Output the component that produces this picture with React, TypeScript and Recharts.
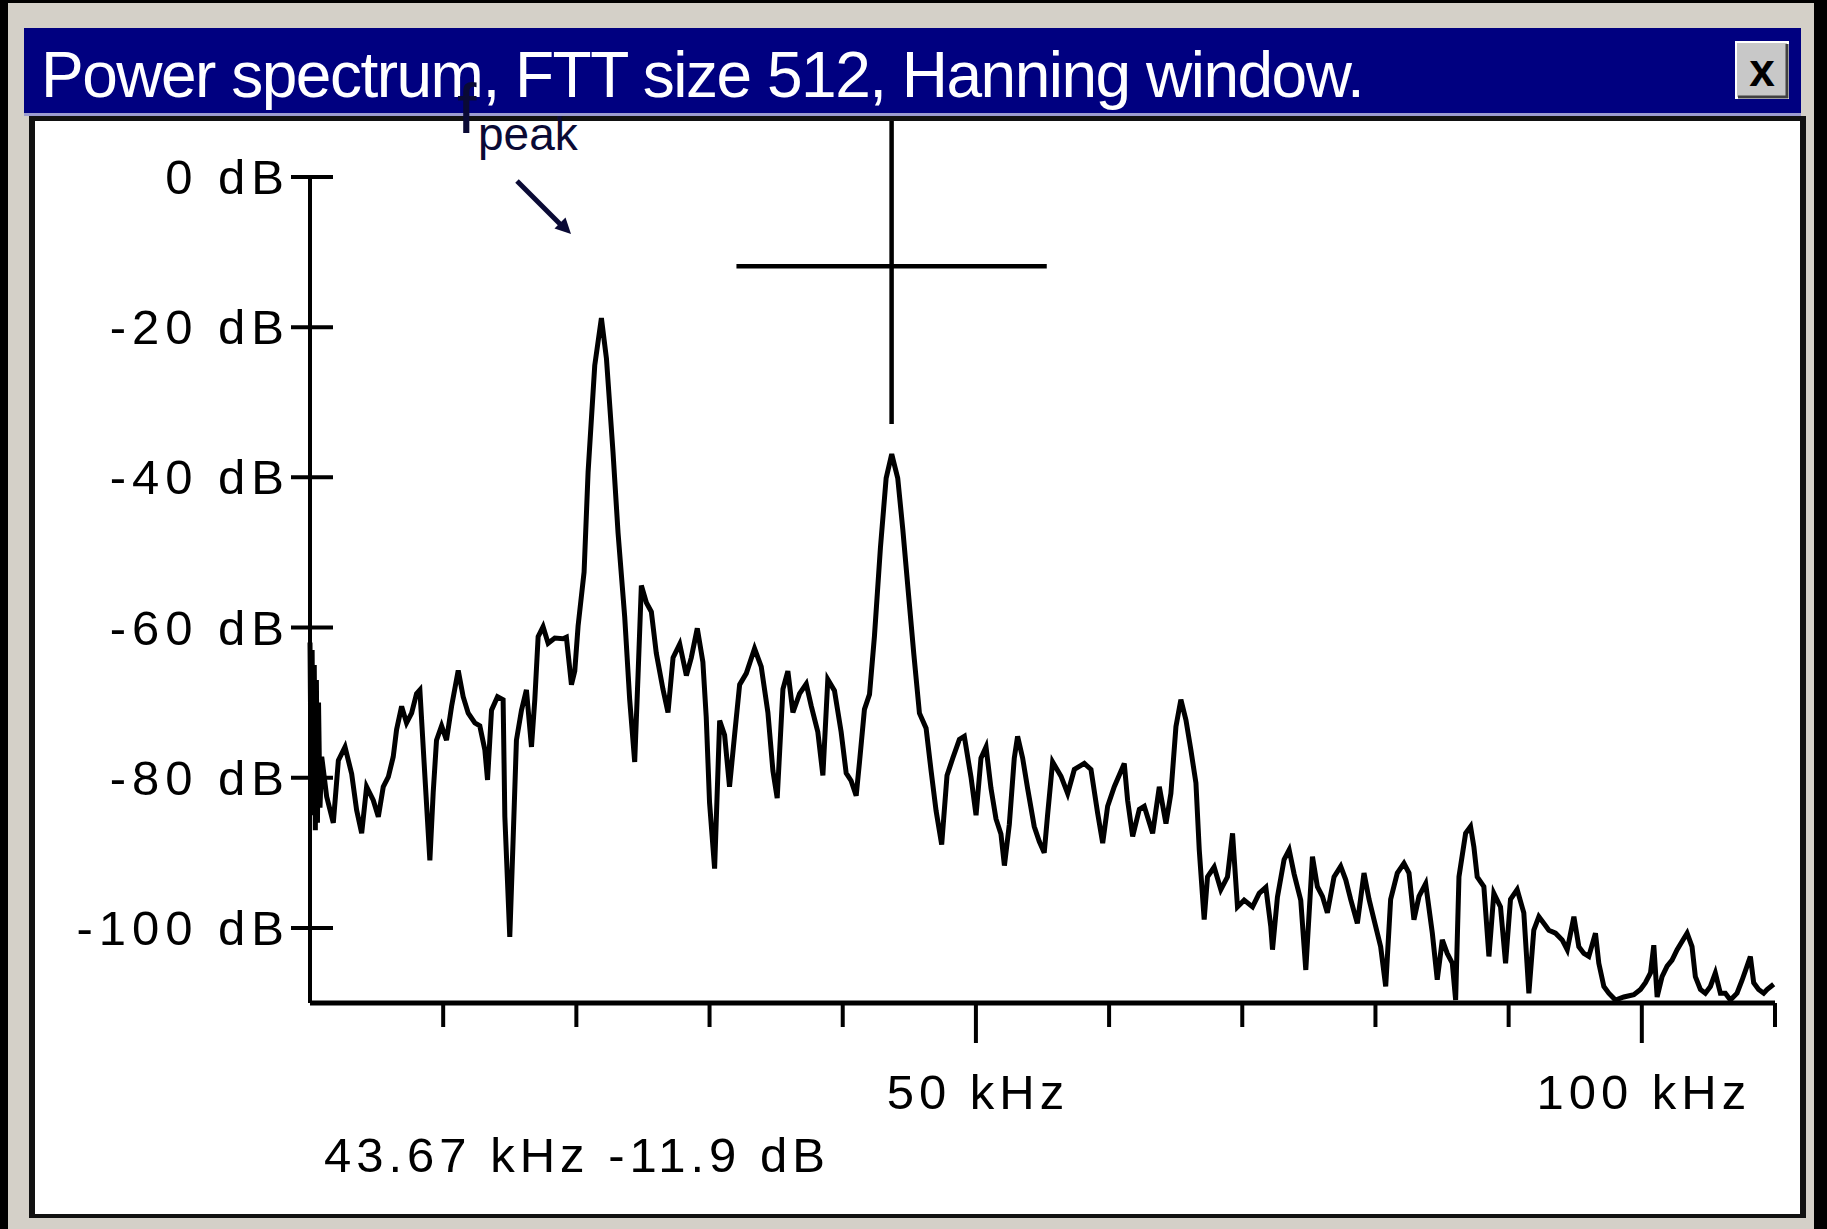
import React from 'react'
import { LineChart, Line, XAxis, YAxis, ReferenceLine } from 'recharts'

// spectrum samples (kHz, dB)
const FREQ_KHZ = [
  0, 0.08, 0.16, 0.24, 0.32, 0.4, 0.48, 0.56, 0.64, 0.75, 0.88, 1.25, 1.75, 2.13, 2.63, 3.13, 3.5, 3.88, 4.25, 4.75, 5.13, 5.5, 5.88, 6.25,
  6.5, 6.88, 7.25, 7.63, 8.0, 8.25, 8.63, 9.0, 9.25, 9.5, 9.88, 10.25, 10.63, 11.13, 11.5, 11.88, 12.38, 12.75, 13.13, 13.33,
  13.63, 14.08, 14.5, 14.63, 15.0, 15.25, 15.5, 15.88, 16.25, 16.63, 16.88, 17.13, 17.5, 17.88, 18.38, 19.0, 19.25, 19.63, 19.88, 20.13,
  20.58, 20.88, 21.38, 21.88, 22.26, 22.75, 23.13, 23.63, 24.0, 24.38, 24.63, 24.88, 25.26, 25.63, 26.0, 26.5, 26.88, 27.26, 27.76, 28.26,
  28.63, 29.08, 29.5, 29.75, 30.0, 30.38, 30.76, 31.13, 31.5, 31.88, 32.26, 32.76, 33.38, 33.88, 34.38, 34.76, 35.08, 35.51, 35.88, 36.26,
  36.76, 37.26, 37.63, 38.13, 38.51, 38.88, 39.38, 39.88, 40.26, 40.63, 41.01, 41.26, 41.63, 42.01, 42.38, 42.83, 43.26, 43.68, 44.13, 44.51,
  44.93, 45.33, 45.76, 46.26, 46.63, 47.01, 47.43, 47.83, 48.26, 48.76, 49.13, 49.63, 50.01, 50.38, 50.76, 51.13, 51.51, 51.88, 52.14, 52.51,
  52.88, 53.13, 53.51, 53.88, 54.38, 54.76, 55.13, 55.38, 55.76, 56.39, 56.89, 57.39, 58.14, 58.64, 59.14, 59.52, 59.89, 60.39, 61.14, 61.39,
  61.77, 62.27, 62.64, 63.27, 63.77, 64.27, 64.64, 65.02, 65.39, 65.77, 66.14, 66.52, 66.77, 67.14, 67.39, 67.89, 68.39, 68.89, 69.27, 69.64,
  70.14, 70.77, 71.27, 71.77, 72.14, 72.27, 72.64, 73.14, 73.52, 73.89, 74.39, 74.77, 75.27, 75.64, 76.02, 76.39, 76.89, 77.39, 77.77, 78.14,
  78.64, 79.14, 79.52, 79.89, 80.39, 80.77, 81.14, 81.64, 82.14, 82.52, 82.89, 83.27, 83.77, 84.27, 84.64, 85.02, 85.39, 85.77, 86.02, 86.27,
  86.77, 87.14, 87.39, 87.64, 88.14, 88.52, 88.89, 89.39, 89.77, 90.14, 90.64, 91.14, 91.52, 91.89, 92.27, 92.65, 93.02, 93.52, 94.02, 94.4,
  94.9, 95.27, 95.65, 96.02, 96.52, 96.77, 97.15, 97.52, 98.02, 98.65, 99.4, 99.9, 100.27, 100.65, 100.9, 101.15, 101.52, 101.9, 102.27, 102.65,
  103.02, 103.4, 103.77, 104.02, 104.4, 104.77, 105.15, 105.52, 105.9, 106.27, 106.65, 107.15, 107.52, 107.9, 108.15, 108.4, 108.77, 109.15, 109.4, 109.9,
]

const POWER_DB = [
  -62, -80, -63, -85, -65, -87, -67, -86, -70, -84, -77.2, -82.5, -86, -77.7, -75.9, -79.5, -84.3, -87.4, -81.2, -83, -85.2, -81.2, -79.9, -77.2,
  -73.6, -70.5, -72.7, -71.4, -68.8, -68.3, -79.9, -91, -82, -75, -73.1, -75, -70.5, -65.7, -69.2, -71.4, -72.7, -73.1, -76.3, -80.3,
  -71, -69.2, -69.6, -85.2, -101.2, -88.3, -75, -71, -68.3, -75.9, -69.6, -61.2, -59.9, -62.1, -61.4, -61.5, -61.3, -67.6, -65.8, -59.8,
  -52.6, -39.3, -25.1, -18.8, -24.2, -36.6, -47.4, -58.6, -69.5, -77.9, -66.4, -54.4, -56.7, -57.9, -63.4, -68.2, -71.3, -64, -62.2, -66.4,
  -64, -60.1, -64.6, -71.9, -83.3, -92.1, -72.4, -74.3, -81.2, -74.3, -67.6, -66.1, -62.8, -65.2, -71.3, -79.1, -82.7, -68.2, -65.8, -71.3,
  -68.8, -67.5, -70.4, -73.9, -79.7, -66.9, -68.4, -73.9, -79.4, -80.4, -82.4, -77.9, -70.9, -68.9, -61.2, -49.4, -40.1, -36.9, -40.1, -46.9,
  -55.4, -63.4, -71.4, -73.4, -79, -84.4, -88.9, -79.7, -77.4, -74.9, -74.5, -79.9, -85, -77.4, -75.9, -81.4, -85.5, -87.5, -91.7, -86.2,
  -77.4, -74.5, -77.4, -81.4, -86.5, -88.5, -90, -85, -77.9, -79.8, -82.1, -78.9, -78.1, -78.9, -84.7, -88.7, -83.8, -81.2, -78.1, -83,
  -87.8, -84.2, -83.8, -87.4, -81.2, -86.1, -82.1, -73.2, -69.6, -72.3, -76.3, -80.7, -89.6, -98.9, -93.2, -91.9, -94.9, -93.2, -87.4, -97.2,
  -96.3, -97.2, -95.4, -94.6, -99.8, -102.9, -95.9, -90.9, -89.6, -92.8, -96.3, -105.6, -90.5, -94.5, -95.8, -98, -93.2, -91.8, -93.6, -96.2,
  -99.4, -92.7, -96.2, -98.9, -102.5, -107.8, -96.2, -92.7, -91.4, -92.7, -98.9, -95.8, -94.1, -100.7, -106.9, -101.6, -103.4, -104.7, -109.6, -93.2,
  -87.4, -86.5, -89.2, -93.2, -94.5, -103.8, -95.4, -97.2, -104.7, -96.2, -94.9, -98, -108.7, -100.3, -98.5, -99.4, -100.3, -100.7, -101.6, -102.9,
  -98.5, -102.5, -103.4, -103.8, -100.7, -104.7, -107.8, -108.7, -109.6, -109.2, -108.9, -108.2, -107.3, -106, -102.3, -109.2, -106.5, -105.1, -104.3, -102.9,
  -101.8, -100.7, -102.5, -106.5, -108.2, -108.7, -107.8, -106, -108.7, -108.7, -109.6, -108.7, -107, -105.1, -103.8, -107.3, -108.2, -108.7, -108.2, -107.5,
]

const X_TICKS = [10, 20, 30, 40, 50, 60, 70, 80, 90, 100, 110]
const X_LABELED = [50, 100]
const Y_TICKS = [0, -20, -40, -60, -80, -100]

const CURSOR_KHZ = 43.67
const CURSOR_DB = -11.9
const CROSS_HALF_KHZ = 11.65
const CROSS_HALF_DB = 21

const TITLE = 'Power spectrum, FTT size 512, Hanning window.'
const READOUT = `${CURSOR_KHZ} kHz -${Math.abs(CURSOR_DB)} dB`

const data = FREQ_KHZ.map((f, i) => ({ f, db: POWER_DB[i] }))

const FONT = '"Liberation Sans", Arial, sans-serif'

function YTick(props: any) {
  const { x, y, payload } = props
  return (
    <g>
      <line x1={x - 19} x2={x + 23} y1={y} y2={y} stroke="#000" strokeWidth={4} />
      <text
        x={x - 20}
        y={y + 17}
        textAnchor="end"
        fontFamily={FONT}
        fontSize={49}
        letterSpacing={6}
        fill="#000"
      >
        {`${payload.value} dB`}
      </text>
    </g>
  )
}

function XTick(props: any) {
  const { x, y, payload } = props
  const major = X_LABELED.includes(payload.value)
  return (
    <g>
      <line x1={x} x2={x} y1={y} y2={y + (major ? 40 : 24)} stroke="#000" strokeWidth={4} />
      {major && (
        <text x={x + 2} y={y + 106} textAnchor="middle" fontFamily={FONT} fontSize={49} letterSpacing={5} fill="#000">
          {`${payload.value} kHz`}
        </text>
      )}
    </g>
  )
}

export default function App() {
  return (
    <div style={{ position: 'fixed', left: 0, top: 0, width: 1827, height: 1229, background: '#000', overflow: 'hidden' }}>
      {/* window frame */}
      <div style={{ position: 'absolute', left: 8, top: 3, width: 1806, height: 1226, background: '#d4d0c8' }} />
      <div style={{ position: 'absolute', left: 29, top: 117, width: 1777, height: 1101, background: '#111' }} />
      <div style={{ position: 'absolute', left: 35, top: 121, width: 1765, height: 1093, background: '#fff' }} />

      <div style={{ position: 'absolute', left: 0, top: 0 }}>
        <LineChart width={1827} height={1229} data={data} margin={{ top: 177, right: 52, bottom: 26, left: 30 }}>
          <XAxis
            type="number"
            dataKey="f"
            domain={[0, 110]}
            ticks={X_TICKS}
            interval={0}
            height={200}
            tickSize={0}
            tickMargin={0}
            tickLine={false}
            axisLine={{ stroke: '#000', strokeWidth: 5 }}
            tick={(p: any) => <XTick {...p} />}
          />
          <YAxis
            type="number"
            domain={[-110, 0]}
            allowDataOverflow
            ticks={Y_TICKS}
            interval={0}
            width={280}
            tickSize={0}
            tickMargin={0}
            tickLine={false}
            axisLine={{ stroke: '#000', strokeWidth: 4 }}
            tick={(p: any) => <YTick {...p} />}
          />
          <ReferenceLine
            segment={[
              { x: CURSOR_KHZ - CROSS_HALF_KHZ, y: CURSOR_DB },
              { x: CURSOR_KHZ + CROSS_HALF_KHZ, y: CURSOR_DB },
            ]}
            stroke="#000"
            strokeWidth={4.5}
            ifOverflow="visible"
          />
          <ReferenceLine
            segment={[
              { x: CURSOR_KHZ, y: CURSOR_DB + CROSS_HALF_DB },
              { x: CURSOR_KHZ, y: CURSOR_DB - CROSS_HALF_DB },
            ]}
            stroke="#000"
            strokeWidth={4.5}
            ifOverflow="visible"
          />
          <Line
            type="linear"
            dataKey="db"
            stroke="#000"
            strokeWidth={5}
            strokeLinejoin="miter"
            dot={false}
            isAnimationActive={false}
          />
        </LineChart>
      </div>

      {/* title bar, readout and annotation on top */}
      <svg width={1827} height={1229} style={{ position: 'absolute', left: 0, top: 0, pointerEvents: 'none' }}>
        <rect x={24} y={28} width={1777} height={86} fill="#000080" />
        <rect x={24} y={113} width={1777} height={3} fill="#9c9cd0" />
        <rect x={29} y={116} width={1777} height={5} fill="#111" />
        <text x={41} y={97} fontFamily={FONT} fontSize={64} letterSpacing={-1.5} fill="#fff">
          {TITLE}
        </text>
        <rect x={1736} y={42} width={52} height={56} fill="#c8c8c8" stroke="#fff" strokeWidth={2} />
        <path d="M1738 97 H1787 V44" fill="none" stroke="#404040" strokeWidth={3} />
        <text x={1762} y={86} textAnchor="middle" fontFamily={FONT} fontWeight="bold" fontSize={46} fill="#000">
          x
        </text>

        <text x={324} y={1172} fontFamily={FONT} fontSize={49} letterSpacing={5} fill="#000">
          {READOUT}
        </text>

        <text x={457} y={133} fontFamily={FONT} fontSize={70} fill="#0a0a35">
          f
        </text>
        <text x={478} y={150} fontFamily={FONT} fontSize={46} fill="#0a0a35">
          peak
        </text>
        <line x1={517} y1={181} x2={561} y2={225} stroke="#0a0a35" strokeWidth={5} />
        <polygon points="571,234 554.5,228.5 565.5,217.5" fill="#0a0a35" />
      </svg>
    </div>
  )
}
